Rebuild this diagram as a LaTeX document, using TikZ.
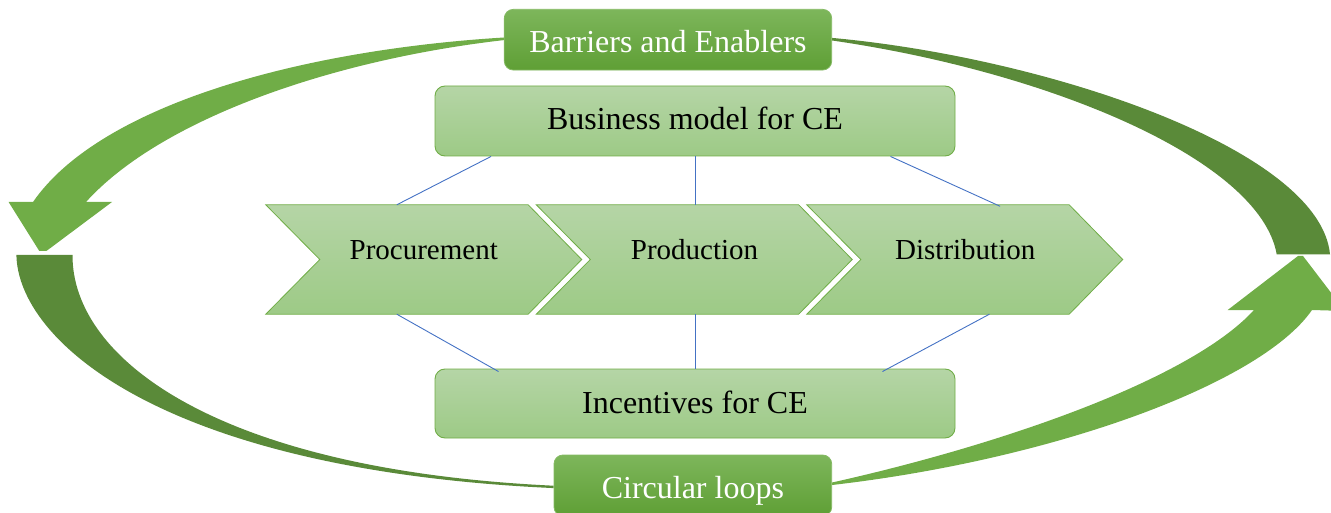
\documentclass[tikz,border=0pt]{standalone}
\usepackage{fontspec}
\setmainfont{Liberation Serif}
\usetikzlibrary{calc}
\pgfdeclarelayer{background}
\pgfsetlayers{background,main}
\definecolor{lightg}{HTML}{70AD47}
\definecolor{darkg}{HTML}{5A8A39}
\definecolor{paleTop}{HTML}{B5D5A6}
\definecolor{paleBot}{HTML}{9DCA86}
\definecolor{boxTop}{HTML}{7DB65B}
\definecolor{boxBot}{HTML}{5F9F35}
\definecolor{linkblue}{HTML}{4472C4}
\definecolor{edgeg}{HTML}{84BA63}
\begin{document}
\begin{tikzpicture}[x=1pt,y=-1pt,
  palebox/.style={rectangle, rounded corners=10pt, draw=lightg, line width=0.9pt,
    top color=paleTop, bottom color=paleBot, inner sep=0pt},
  darkbox/.style={rectangle, rounded corners=9pt, draw=edgeg, line width=0.8pt,
    top color=boxTop, bottom color=boxBot, inner sep=0pt},
  chevframe/.style={rectangle, minimum width=315.5pt, minimum height=109pt, inner sep=0pt},
  chevfill/.style={draw=lightg, line width=0.8pt, line join=miter,
    top color=paleTop, bottom color=paleBot},
  boxtext/.style={anchor=base, inner sep=0pt, font=\fontsize{32}{36}\selectfont},
  whitetext/.style={boxtext, text=white},
  chevtext/.style={anchor=base, inner sep=0pt, font=\fontsize{29}{33}\selectfont},
  link/.style={draw=linkblue, line width=0.9pt},
  lightarrow/.style={fill=lightg, draw=none},
  darkarrow/.style={fill=darkg, draw=none}
]
\useasboundingbox (0,0) rectangle (1331,513);
\clip (0,0) rectangle (1331,513);

% ---- boxes ----
\node[darkbox, minimum width=327.4pt, minimum height=60.7pt] (bar) at (668,39.7) {};
\node[palebox, minimum width=520pt, minimum height=70pt] (biz) at (695,121) {};
\node[palebox, minimum width=520pt, minimum height=69pt] (inc) at (695,403.5) {};
\node[darkbox, minimum width=277.7pt, minimum height=61pt] (loop) at (692.85,485.5) {};

% ---- big circular arrows (behind the boxes) ----
\begin{pgfonlayer}{background}
% top-left (light)
\path[lightarrow] ($(bar.west)+(0,-2.2)$) .. controls (300,50) and (100,105) .. (33,202)
  -- (8.6,202) -- (39.3,251) -- (46.4,251) -- (112,202) -- (86,202)
  .. controls (160,120) and (330,60) .. ($(bar.west)+(0,0.4)$) -- cycle;
% bottom-left (dark)
\path[darkarrow] (16.4,255) -- (72.5,255) .. controls (72,360) and (220,470) .. ($(loop.west)+(0,0.2)$)
  -- ($(loop.west)+(0,2.6)$) .. controls (160,470) and (18,340) .. (16.4,255) -- cycle;
% top-right (dark)
\path[darkarrow] ($(bar.east)+(0,-1.8)$) .. controls (1050,58) and (1320,150) .. (1330,254.3)
  -- (1276.7,254.3) .. controls (1260,160) and (1050,72) .. ($(bar.east)+(0,0.8)$) -- cycle;
% bottom-right (light)
\path[lightarrow] ($(loop.east)+(0,-3)$) .. controls (1000,445) and (1190,380) .. (1254,310)
  -- (1227.7,310) -- (1298,256) -- (1303,256) -- (1345,311) -- (1312,310)
  .. controls (1260,385) and (1050,460) .. ($(loop.east)+(0,-0.5)$) -- cycle;
\end{pgfonlayer}

% ---- chevrons ----
\node[chevframe] (proc) at (423.75,259.5) {};
\node[chevframe] (prod) at (694.25,259.5) {};
\node[chevframe] (dist) at (964.75,259.5) {};
\foreach \c in {proc,prod,dist}{
  \path[chevfill] (\c.north west) -- ($(\c.north east)+(-53.5,0)$) -- (\c.east)
    -- ($(\c.south east)+(-53.5,0)$) -- (\c.south west) -- ($(\c.west)+(54,0)$) -- cycle;
}

% ---- texts ----
\node[whitetext] (barT) at ($(bar.center)+(0,13)$) {Barriers and Enablers};
\node[boxtext] (bizT) at ($(biz.center)+(0,8.5)$) {Business model for CE};
\node[boxtext] (incT) at ($(inc.center)+(0,9.8)$) {Incentives for CE};
\node[whitetext] (loopT) at ($(loop.center)+(0,12.8)$) {Circular loops};
\node[chevtext] (procT) at ($(proc.center)+(0,0.5)$) {Procurement};
\node[chevtext] (prodT) at ($(prod.center)+(0.3,0.5)$) {Production};
\node[chevtext] (distT) at ($(dist.center)+(0.5,0.5)$) {Distribution};

% ---- blue connectors ----
\draw[link] ($(biz.south west)+(56.5,0)$) -- ($(proc.north west)+(131,0)$);
\draw[link] (biz.south) -- (prod.north -| biz.south);
\draw[link] ($(biz.south east)+(-65,0)$) -- ($(dist.north west)+(193.3,1.5)$);
\draw[link] ($(proc.south west)+(131,0)$) -- ($(inc.north west)+(64,3)$);
\draw[link] (prod.south -| inc.north) -- (inc.north);
\draw[link] ($(dist.south west)+(182.6,0)$) -- ($(inc.north east)+(-73,3)$);
\end{tikzpicture}
\end{document}
